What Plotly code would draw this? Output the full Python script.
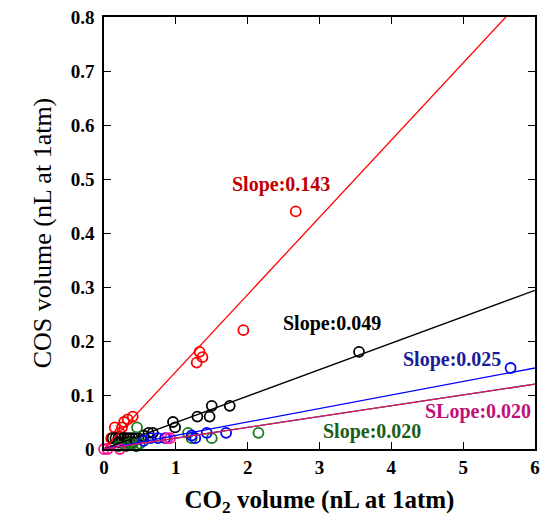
import plotly.graph_objects as go

# ---- data ----
red_x = [0.10, 0.15, 0.22, 0.25, 0.28, 0.33, 0.40, 1.29, 1.33, 1.37, 1.94, 2.67]
red_y = [0.02, 0.04, 0.03, 0.04, 0.05, 0.055, 0.06, 0.16, 0.18, 0.17, 0.22, 0.44]

black_x = [0.12, 0.16, 0.20, 0.24, 0.28, 0.32, 0.36, 0.40, 0.44, 0.48, 0.20, 0.30, 0.40,
           0.55, 0.62, 0.68, 0.96, 0.99, 1.30, 1.47, 1.50, 1.75, 3.55]
black_y = [0.02, 0.02, 0.02, 0.02, 0.02, 0.02, 0.02, 0.02, 0.02, 0.02, 0.012, 0.012, 0.012,
           0.025, 0.03, 0.03, 0.05, 0.04, 0.06, 0.06, 0.08, 0.08, 0.18]

green_x = [0.20, 0.30, 0.35, 0.40, 0.45, 0.46, 0.50, 1.17, 1.22, 1.50, 2.15]
green_y = [0.005, 0.005, 0.01, 0.01, 0.005, 0.04, 0.01, 0.03, 0.02, 0.02, 0.03]

blue_x = [0.55, 0.65, 0.75, 0.85, 1.22, 1.27, 1.43, 1.70, 5.66]
blue_y = [0.015, 0.02, 0.02, 0.02, 0.025, 0.02, 0.03, 0.03, 0.15]

pink_x = [0.0, 0.05, 0.22, 0.88, 0.92]
pink_y = [0.0, 0.0, 0.0, 0.02, 0.02]

slopes = {"red": 0.143, "black": 0.049, "blue": 0.025, "green": 0.020, "pink": 0.020}
line_x = [0, 6]

labels = [
    ("Slope:0.143", 2.46, 0.49, "#c00000"),
    ("Slope:0.049", 3.18, 0.233, "#000000"),
    ("Slope:0.025", 4.84, 0.165, "#1a1a9a"),
    ("SLope:0.020", 5.20, 0.069, "#c0107a"),
    ("Slope:0.020", 3.73, 0.033, "#1a5e1a"),
]

x_ticks = [0, 1, 2, 3, 4, 5, 6]
y_ticks = [0, 0.1, 0.2, 0.3, 0.4, 0.5, 0.6, 0.7, 0.8]

# ---- figure ----
fig = go.Figure()

series = [
    ("red", red_x, red_y, "#ff0000", "#ff0000"),
    ("black", black_x, black_y, "#000000", "#000000"),
    ("green", green_x, green_y, "#1a7a1a", "#006400"),
    ("blue", blue_x, blue_y, "#0000ff", "#0000ff"),
    ("pink", pink_x, pink_y, "#ff1493", "#e0107a"),
]

for name, xs, ys, mcol, lcol in series:
    fig.add_trace(go.Scatter(
        x=xs, y=ys, mode="markers", cliponaxis=False,
        marker=dict(symbol="circle-open", size=10, color=mcol, line=dict(width=1.8, color=mcol)),
        showlegend=False, hoverinfo="skip"))

for name, xs, ys, mcol, lcol in series:
    s = slopes[name]
    fig.add_trace(go.Scatter(
        x=line_x, y=[s * v for v in line_x], mode="lines",
        line=dict(color=lcol, width=1.3), showlegend=False, hoverinfo="skip"))

for text, x, y, col in labels:
    fig.add_annotation(x=x, y=y, text="<b>" + text + "</b>", showarrow=False,
                       font=dict(family="Liberation Serif", size=20, color=col))

axis_common = dict(
    showgrid=False, zeroline=False, showline=True, linecolor="black", linewidth=1.5,
    mirror="ticks", ticks="inside", ticklen=7, tickwidth=1.2, tickcolor="black",
    tickfont=dict(family="Liberation Serif", size=19, color="black"),
)

fig.update_xaxes(range=[0, 6], tickvals=x_ticks,
                 ticktext=["<b>%g</b>" % v for v in x_ticks],
                 title=dict(text="<b>CO<sub>2</sub> volume (nL at 1atm)</b>",
                            font=dict(family="Liberation Serif", size=25, color="black"),
                            standoff=14),
                 **axis_common)
fig.update_yaxes(range=[0, 0.8], tickvals=y_ticks,
                 ticktext=["<b>%g</b>" % v for v in y_ticks],
                 ticklabelstandoff=4,
                 title=dict(text="COS volume (nL at 1atm)",
                            font=dict(family="Liberation Serif", size=26, color="black"),
                            standoff=12),
                 **axis_common)

fig.update_layout(
    width=541, height=530,
    margin=dict(l=104, r=6, t=17, b=81, autoexpand=False),
    plot_bgcolor="white", paper_bgcolor="white",
)

fig.write_html("out.html", config={"displayModeBar": False},
               post_script="document.body.style.margin='0';document.body.style.overflow='hidden';")
